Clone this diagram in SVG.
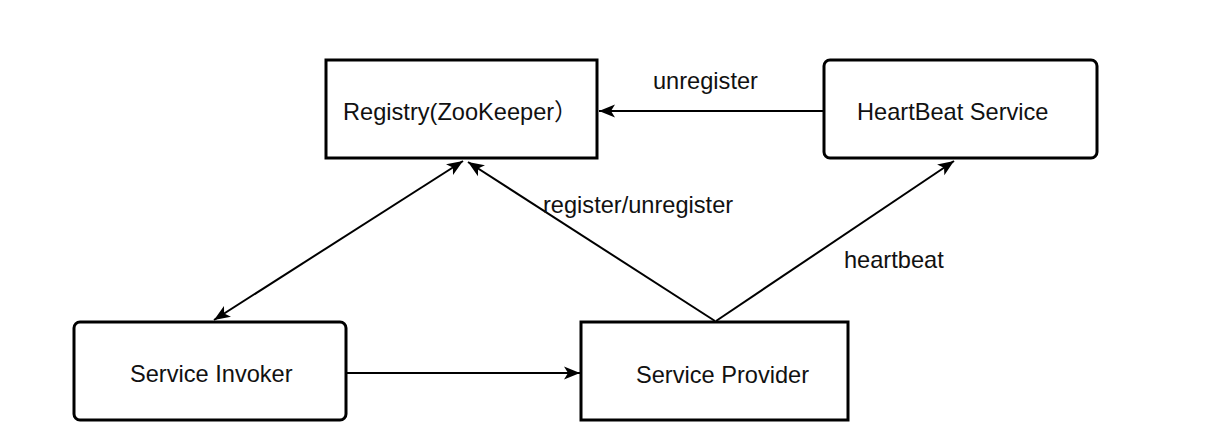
<svg xmlns="http://www.w3.org/2000/svg" width="1210" height="448" viewBox="0 0 1210 448">
<style>
.box{fill:#fff;stroke:#000;stroke-width:3}
.lbl{font-family:"Liberation Sans","Noto Sans CJK SC",Arial,sans-serif;font-size:23.6px;fill:#111}
.edge{fill:none;stroke:#000;stroke-width:2}
</style>
<defs>
<marker id="ah" markerUnits="userSpaceOnUse" markerWidth="18" markerHeight="18" viewBox="0 0 18 18" refX="17" refY="9" orient="auto-start-reverse">
<path d="M1,2.5 L17,9 L1,15.5 L5,9 Z" fill="#000"/>
</marker>
</defs>
<rect width="1210" height="448" fill="#fff"/>
<g id="connectors">
<line class="edge" x1="823" y1="111" x2="599" y2="111" marker-end="url(#ah)"/>
<line class="edge" x1="214" y1="320" x2="463" y2="161" marker-start="url(#ah)" marker-end="url(#ah)"/>
<line class="edge" x1="715" y1="321" x2="468" y2="162" marker-end="url(#ah)"/>
<line class="edge" x1="716" y1="321" x2="954" y2="161" marker-end="url(#ah)"/>
<line class="edge" x1="346" y1="373" x2="580" y2="373" marker-end="url(#ah)"/>
<text class="lbl" x="653" y="89">unregister</text>
<text class="lbl" x="543" y="213">register/unregister</text>
<text class="lbl" x="844" y="268">heartbeat</text>
</g>
<g id="registry">
<rect class="box" x="326" y="60" width="271" height="98"/>
<text class="lbl" x="343" y="120">Registry(ZooKeeper）</text>
</g>
<g id="heartbeat">
<rect class="box" x="824" y="60" width="273" height="98" rx="6"/>
<text class="lbl" x="857" y="120">HeartBeat Service</text>
</g>
<g id="invoker">
<rect class="box" x="74" y="322" width="272" height="98" rx="6"/>
<text class="lbl" x="130" y="382">Service Invoker</text>
</g>
<g id="provider">
<rect class="box" x="581" y="322" width="267" height="98"/>
<text class="lbl" x="636" y="383">Service Provider</text>
</g>
</svg>
